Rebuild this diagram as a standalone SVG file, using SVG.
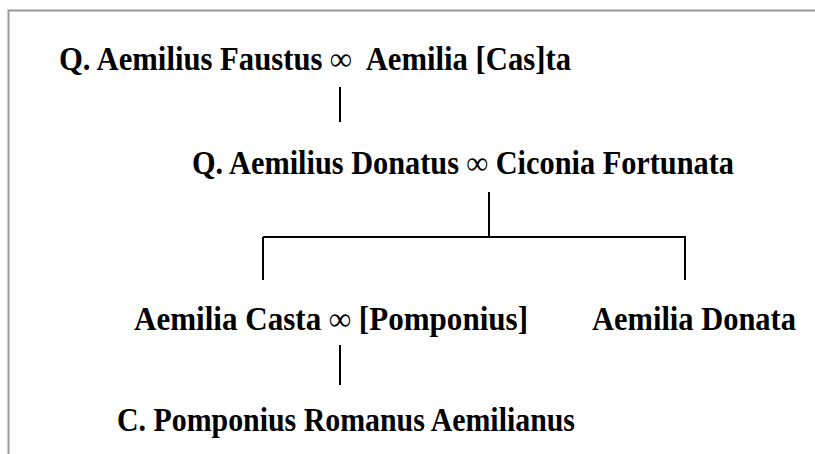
<svg xmlns="http://www.w3.org/2000/svg" width="815" height="454" viewBox="0 0 815 454">
<style>
.t{font-family:"Liberation Serif","Times New Roman",serif;font-weight:bold;font-size:33px;fill:#000;white-space:pre}
.c{stroke:#000;stroke-width:2;fill:none}
.b{stroke:#999;stroke-width:2;fill:none}
</style>
<rect width="815" height="454" fill="#fff"/>
<path class="b" d="M8.5,454 V10.5 H815"/>
<g id="connectors">
<line class="c" x1="340" y1="87" x2="340" y2="122"/>
<line class="c" x1="489" y1="192" x2="489" y2="237"/>
<line class="c" x1="263" y1="237" x2="686" y2="237"/>
<line class="c" x1="263" y1="237" x2="263" y2="280"/>
<line class="c" x1="685" y1="237" x2="685" y2="280"/>
<line class="c" x1="340" y1="345" x2="340" y2="385"/>
</g>
<g id="n1"><text class="t" x="59" y="70" textLength="512" lengthAdjust="spacingAndGlyphs">Q. Aemilius Faustus ∞  Aemilia [Cas]ta</text></g>
<g id="n2"><text class="t" x="192" y="174" textLength="542" lengthAdjust="spacingAndGlyphs">Q. Aemilius Donatus ∞ Ciconia Fortunata</text></g>
<g id="n3"><text class="t" x="134" y="330" textLength="394" lengthAdjust="spacingAndGlyphs">Aemilia Casta ∞ [Pomponius]</text></g>
<g id="n4"><text class="t" x="592" y="330" textLength="204" lengthAdjust="spacingAndGlyphs">Aemilia Donata</text></g>
<g id="n5"><text class="t" x="117" y="431" textLength="458" lengthAdjust="spacingAndGlyphs">C. Pomponius Romanus Aemilianus</text></g>
</svg>
